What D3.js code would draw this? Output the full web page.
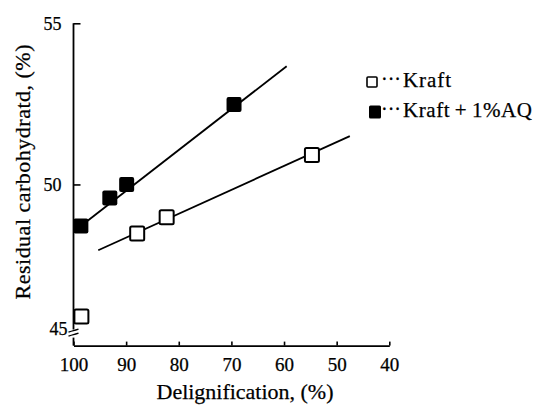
<!DOCTYPE html>
<html><head><meta charset="utf-8">
<script src="https://cdn.jsdelivr.net/npm/d3@7"></script>
<style>
body{margin:0;background:#fff}
text{font-family:"Liberation Serif","Times New Roman",serif;fill:#000;stroke:#000;stroke-width:0.25}
</style>
</head><body>
<svg id="chart" width="538" height="405"></svg>
<script>
// Residual carbohydrate vs. delignification
const kraftDelig = [98.5, 87.9, 82.3, 54.7];
const kraftCarb  = [45.9, 48.48, 48.98, 50.91];
const aqDelig    = [98.6, 93.1, 89.9, 69.5];
const aqCarb     = [48.71, 49.58, 50.0, 52.48];
// fitted trend lines (end points)
const kraftFitDelig = [95.3, 47.5];
const kraftFitCarb  = [47.96, 51.5];
const aqFitDelig    = [98.6, 59.5];
const aqFitCarb     = [48.71, 53.67];
const xTicks = [100, 90, 80, 70, 60, 50, 40];
const yTicks = [45, 50, 55];
const legendLabels = ["Kraft", "Kraft\u2009+\u20091%AQ"];

const svg = d3.select("#chart");
const x = d3.scaleLinear().domain([100, 40]).range([73.5, 389.3]);
const y = d3.scaleLinear().domain([45, 55]).range([345.6, 23.3]);
const axisY0 = y(45);

// x axis
const gx = svg.append("g").attr("transform", `translate(0,${axisY0})`)
  .call(d3.axisBottom(x).tickValues(xTicks).tickSizeInner(-4).tickSizeOuter(0).tickPadding(12)
    .tickFormat(d3.format("d")));
gx.select(".domain").attr("stroke", "#000").attr("stroke-width", 1.8);
gx.selectAll(".tick line").attr("stroke", "#000").attr("stroke-width", 1.6);
gx.selectAll(".tick text").attr("font-size", 19).attr("font-family", "Liberation Serif");

// y axis (broken near 45)
const gy = svg.append("g").attr("transform", `translate(${x(100)},0)`)
  .call(d3.axisLeft(y).tickValues(yTicks).tickSizeInner(-7).tickSizeOuter(0).tickPadding(12)
    .tickFormat(d3.format("d")));
gy.select(".domain").remove();
gy.selectAll(".tick line").attr("stroke", "#000").attr("stroke-width", 1.6)
  .filter(d => d === 45).remove();
gy.selectAll(".tick text").attr("font-size", 18).attr("font-family", "Liberation Serif")
  .filter(d => d === 45).attr("dy", "-0.6em").attr("x", -6);
gy.append("line").attr("x1", 0).attr("x2", 0).attr("y1", y(55)).attr("y2", axisY0 - 16)
  .attr("stroke", "#000").attr("stroke-width", 1.8);
gy.append("line").attr("x1", 0).attr("x2", 0).attr("y1", axisY0 - 8).attr("y2", axisY0)
  .attr("stroke", "#000").attr("stroke-width", 1.8);
[-15, -11].forEach(o => {
  gy.append("path").attr("d", `M-5,${axisY0 + o + 1.5} q3,-1 5,-1.5 t5,-1.5`)
    .attr("fill", "none").attr("stroke", "#000").attr("stroke-width", 1.4);
});

// trend lines
const line = d3.line().x(d => x(d[0])).y(d => y(d[1]));
svg.append("path").datum(d3.zip(kraftFitDelig, kraftFitCarb)).attr("d", line)
  .attr("fill", "none").attr("stroke", "#000").attr("stroke-width", 1.8);
svg.append("path").datum(d3.zip(aqFitDelig, aqFitCarb)).attr("d", line)
  .attr("fill", "none").attr("stroke", "#000").attr("stroke-width", 1.8);

// markers
const S = 14;
svg.append("g").selectAll("rect").data(d3.zip(kraftDelig, kraftCarb)).join("rect")
  .attr("x", d => x(d[0]) - S / 2).attr("y", d => y(d[1]) - S / 2)
  .attr("width", S).attr("height", S).attr("rx", 1.5)
  .attr("fill", "#fff").attr("stroke", "#000").attr("stroke-width", 2);
svg.append("g").selectAll("rect").data(d3.zip(aqDelig, aqCarb)).join("rect")
  .attr("x", d => x(d[0]) - 7.5).attr("y", d => y(d[1]) - 7.5)
  .attr("width", 15).attr("height", 15).attr("rx", 2)
  .attr("fill", "#000");

// legend
const lg = svg.append("g");
lg.append("rect").attr("x", 367).attr("y", 77).attr("width", 10).attr("height", 10).attr("rx", 1)
  .attr("fill", "#fff").attr("stroke", "#000").attr("stroke-width", 1.6);
lg.append("rect").attr("x", 369).attr("y", 105.5).attr("width", 12).attr("height", 13).attr("rx", 1.5)
  .attr("fill", "#000");
[87, 117].forEach((b, i) => {
  lg.append("text").attr("x", 381).attr("y", b - 1).attr("font-size", 20).text("\u00b7\u00b7\u00b7");
  lg.append("text").attr("x", 403).attr("y", b).attr("font-size", 21)
    .attr("textLength", i === 0 ? 48 : 129).attr("lengthAdjust", "spacing")
    .text(legendLabels[i]);
});

// axis titles
svg.append("text").attr("transform", "translate(30,172) rotate(-90)")
  .attr("text-anchor", "middle").attr("font-size", 22).attr("textLength", 255)
  .text("Residual carbohydratd, (%)");
svg.append("text").attr("x", 245).attr("y", 399).attr("text-anchor", "middle")
  .attr("font-size", 22).attr("textLength", 177)
  .text("Delignification, (%)");
</script>
</body></html>
